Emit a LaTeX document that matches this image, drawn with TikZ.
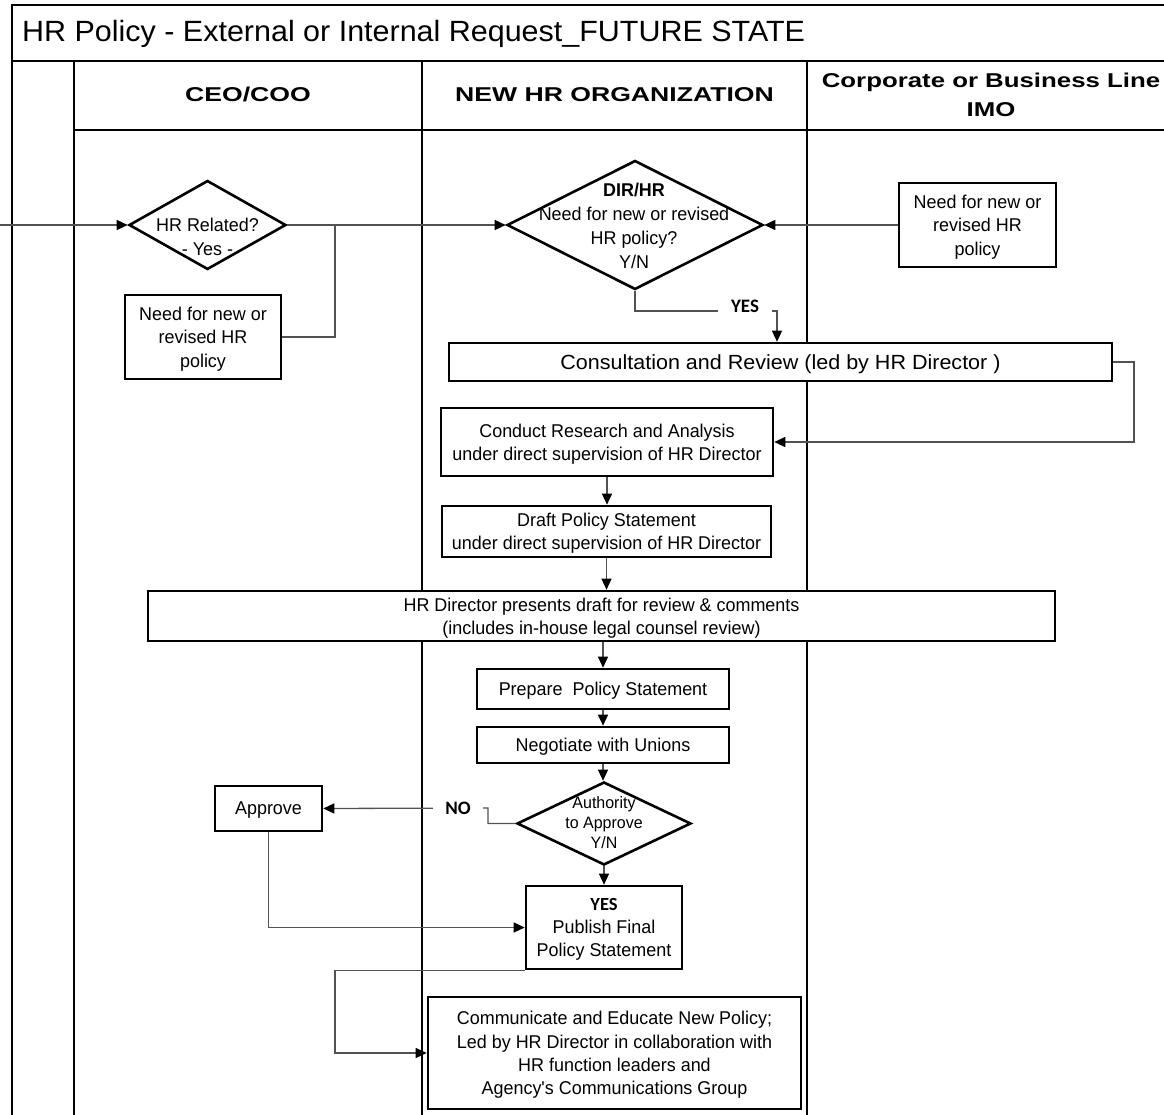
\documentclass[tikz,border=0pt]{standalone}
\usepackage{fontspec}
\setmainfont{Liberation Sans}
\newfontfamily\titlefont[FakeStretch=1.04]{Liberation Sans}
\newfontfamily\headfont[FakeStretch=1.33]{Liberation Sans}
\newfontfamily\sideheadfont[FakeStretch=1.29]{Liberation Sans}
\newfontfamily\bodyfont[FakeStretch=0.97]{Liberation Sans}
\newfontfamily\widefont[FakeStretch=1.05]{Liberation Sans}
\newfontfamily\tagfont{Carlito}
\usetikzlibrary{shapes.geometric,arrows.meta}

\tikzset{
  lane/.style={line width=2.2pt, black},
  box/.style={draw=black, fill=white, line width=2.6pt, inner sep=0pt, text depth=0pt,
    align=center, font=\bodyfont\fontsize{18.5}{23.3}\selectfont},
  dia/.style={diamond, draw=black, fill=white, line width=2.6pt, inner sep=0pt},
  diatext/.style={align=center, inner sep=0pt, font=\bodyfont\fontsize{18.5}{24}\selectfont},
  head/.style={align=center, inner sep=0pt, font=\headfont\bfseries\fontsize{20}{29}\selectfont},
  tag/.style={fill=white, inner sep=0pt, minimum height=20pt,
    font=\tagfont\bfseries\fontsize{19}{22}\selectfont},
  conn/.style={draw=black!68, line width=1.3pt},
  arr/.style={conn, -{Triangle[length=11pt,width=10pt,color=black]}},
}

\begin{document}
\begin{tikzpicture}[x=1pt,y=-1pt]
\useasboundingbox (0,0) rectangle (1164,1115);

% frame, title row and swimlanes
\draw[line width=2pt] (1180,5) -- (12,5) -- (12,1120);
\draw[lane] (12,61) -- (1180,61);
\draw[lane] (74,130) -- (1180,130);
\draw[lane] (74,61) -- (74,1120);
\draw[lane] (422,61) -- (422,1120);
\draw[lane] (807,61) -- (807,1120);

\node[anchor=base west, inner sep=0pt, font=\titlefont\fontsize{29.3}{34}\selectfont]
  (title) at (22,42) {HR Policy - External or Internal Request\_FUTURE STATE};

\node[head, anchor=base] (hceo) at (248,102) {CEO/COO};
\node[head, anchor=base] (hhr) at (614.5,102) {NEW HR ORGANIZATION};
\node[head, font=\sideheadfont\bfseries\fontsize{20}{29}\selectfont] (himo) at (991,95)
  {Corporate or Business Line\\IMO};

% helper points for connectors
\coordinate (entry) at (0,225);
\coordinate (join) at (335,225);
\coordinate (yescol) at (777,311);
\coordinate (loop) at (1134,442);
\coordinate (nobend) at (488,808);
\coordinate (commcol) at (335,1053);

% shapes
\node[dia, minimum width=157pt, minimum height=89pt] (hrrel) at (207.5,225) {};
\node[box, minimum width=156pt, minimum height=84pt] (needceo) at (203,337)
  {Need for new or\\revised HR\\policy};
\node[dia, minimum width=256pt, minimum height=129pt] (dir) at (635,225) {};
\node[box, minimum width=157pt, minimum height=84pt] (needimo) at (977.5,225)
  {Need for new or\\revised HR\\policy};
\node[box, minimum width=663pt, minimum height=38pt,
  font=\widefont\fontsize{20.5}{24}\selectfont] (consult) at (780.5,362)
  {Consultation and Review (led by HR Director )};
\node[box, minimum width=332pt, minimum height=68pt] (conduct) at (607,442)
  {Conduct Research and Analysis\\under direct supervision of HR Director};
\node[box, minimum width=329pt, minimum height=51pt] (draft) at (606.5,531.5)
  {Draft Policy Statement\\under direct supervision of HR Director};
\node[box, minimum width=907pt, minimum height=50pt] (present) at (601.5,616)
  {HR Director presents draft for review \& comments\\(includes in-house legal counsel review)};
\node[box, minimum width=252pt, minimum height=40pt] (prepare) at (603,689)
  {Prepare\ \ Policy Statement};
\node[box, minimum width=252pt, minimum height=36pt] (negot) at (603,745)
  {Negotiate with Unions};
\node[dia, minimum width=174pt, minimum height=83pt] (auth) at (604,823.5) {};
\node[box, minimum width=107pt, minimum height=45pt] (approve) at (268.5,808.5)
  {Approve};
\node[box, minimum width=156pt, minimum height=83pt] (publish) at (604,927.5)
  {{\tagfont\bfseries YES}\\Publish Final\\Policy Statement};
\node[box, minimum width=373pt, minimum height=112pt] (comm) at (614.5,1053)
  {Communicate and Educate New Policy;\\Led by HR Director in collaboration with\\HR function leaders and\\Agency's Communications Group};

% diamond texts
\node[diatext] (hrreltext) at (207.5,237) {HR Related?\\- Yes -};
\node[diatext] (dirtext) at (634,226) {{\bfseries DIR/HR}\\Need for new or revised\\HR policy?\\Y/N};
\node[diatext, font=\bodyfont\fontsize{16.5}{20}\selectfont] (authtext) at (604,823)
  {Authority\\to Approve\\Y/N};

% connectors between shapes
\draw[arr] (entry) -- (hrrel.west);
\draw[arr] (hrrel.east) -- (dir.west);
\draw[conn] (needceo.east) -| (join);
\draw[arr] (needimo.west) -- (dir.east);
\draw[arr] (dir.south) |- (yescol) -- (yescol |- consult.north);
\node[tag, minimum width=54pt] (yeslbl) at (745,306) {YES};
\draw[arr] (consult.east) -| (loop) -- (conduct.east);
\draw[arr] (conduct.south) -- (conduct.south |- draft.north);
\draw[arr] (draft.south) -- (draft.south |- present.north);
\draw[arr] (prepare.north |- present.south) -- (prepare.north);
\draw[arr] (prepare.south) -- (negot.north);
\draw[arr] (negot.south) -- (negot.south |- auth.north);
\draw[arr] (auth.south) -- (publish.north);
\draw[arr] (auth.west) -| (nobend) -- (approve.east);
\node[tag, minimum width=50pt] (nolbl) at (458,808) {NO};
\draw[arr] (approve.south) |- (publish.west);
\draw[arr] (publish.south west) -| (commcol) -- (comm.west);
\end{tikzpicture}
\end{document}
